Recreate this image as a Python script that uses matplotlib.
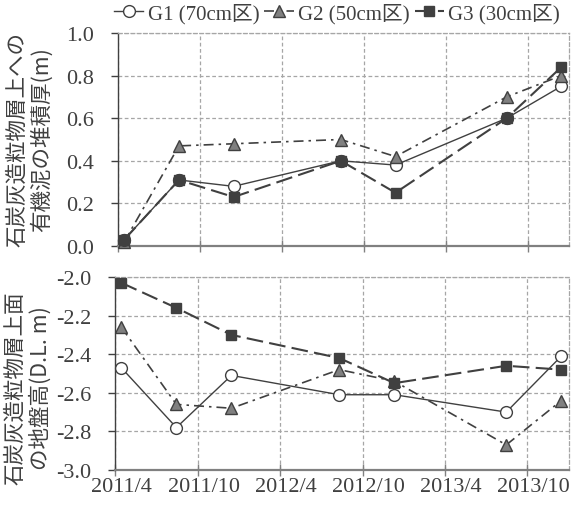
import numpy as np
import matplotlib
matplotlib.use("Agg")
import matplotlib.pyplot as plt
import matplotlib.dates as mdates
from matplotlib.ticker import FixedLocator, FuncFormatter
from matplotlib.transforms import ScaledTranslation
from datetime import date

# ── data ─────────────────────────────────────────────────────────────────────
DATES = [date(2011, 4, 15), date(2011, 8, 15), date(2011, 12, 15),
         date(2012, 8, 10), date(2012, 12, 10), date(2013, 8, 15),
         date(2013, 12, 15)]
SERIES = ["G1 (70cm区)", "G2 (50cm区)", "G3 (30cm区)"]

# organic mud thickness on coal ash granule layer (m)
THICK_G1 = [0.03, 0.31, 0.28, 0.40, 0.38, 0.60, 0.75]
THICK_G2 = [0.02, 0.47, 0.48, 0.50, 0.42, 0.70, 0.80]
THICK_G3 = [0.03, 0.31, 0.23, 0.40, 0.25, 0.60, 0.84]

# ground height of layer surface (D.L. m)
ELEV_G1 = [-2.47, -2.78, -2.51, -2.61, -2.61, -2.70, -2.41]
ELEV_G2 = [-2.26, -2.66, -2.68, -2.48, -2.54, -2.87, -2.64]
ELEV_G3 = [-2.03, -2.16, -2.30, -2.42, -2.55, -2.46, -2.48]

XTICKS = [date(2011, 4, 1), date(2011, 10, 1), date(2012, 4, 1),
          date(2012, 10, 1), date(2013, 4, 1), date(2013, 10, 1)]
XLIM = (date(2011, 4, 1), date(2014, 1, 1))

# ── style ────────────────────────────────────────────────────────────────────
FONT = ["Liberation Serif", "Noto Sans CJK JP"]
CJK = ["Noto Sans CJK JP", "Liberation Serif"]
plt.rcParams["font.family"] = FONT

DARK = "#404040"
MID = "#808080"
GRID = "#a6a6a6"
TXT = "#404040"
MS = 8.5
TICK_FS = 16
LEG_FS = 15

STYLES = [
    dict(color=DARK, lw=1.0, ls="-", marker="o", mfc="white", mec=DARK, ms=MS),
    dict(color=DARK, lw=1.2, ls=(0, (6, 3, 1.5, 3)), marker="^", mfc=MID, mec=DARK, ms=MS),
    dict(color=DARK, lw=1.5, ls=(0, (8, 3)), marker="s", mfc=DARK, mec=DARK, ms=MS * 0.85),
]


def style_axis(ax, ylim, yticks):
    ax.set_xlim(*XLIM)
    ax.set_ylim(*ylim)
    ax.xaxis.set_major_locator(FixedLocator(mdates.date2num(XTICKS)))
    ax.xaxis.set_major_formatter(
        FuncFormatter(lambda v, _: f"{mdates.num2date(v).year}/{mdates.num2date(v).month}"))
    ax.set_yticks(yticks)
    # short hyphen like the original, not a wide minus
    ax.yaxis.set_major_formatter(FuncFormatter(lambda v, _: f"{v:.1f}"))
    ax.grid(True, ls=(0, (3, 2)), color=GRID, lw=0.9)
    for side in ("top", "right"):
        ax.spines[side].set_linestyle((0, (3, 2)))
        ax.spines[side].set_color(GRID)
        ax.spines[side].set_linewidth(0.9)
    ax.spines["left"].set_color(DARK)
    ax.spines["left"].set_linewidth(1.0)
    ax.spines["bottom"].set_color(MID)
    ax.spines["bottom"].set_linewidth(1.6)
    ax.tick_params(axis="x", direction="inout", length=8, width=1.0, color=MID,
                   labelcolor=TXT, labelsize=TICK_FS, pad=1)
    ax.tick_params(axis="y", direction="out", length=5, width=1.0, color=DARK,
                   labelcolor=TXT, labelsize=TICK_FS, pad=12)
    ax.set_axisbelow(True)


def draw_panel(ax, g1, g2, g3):
    x = mdates.date2num(DATES)
    handles = []
    for vals, st, name in zip((g1, g2, g3), STYLES, SERIES):
        h, = ax.plot(x, vals, label=name, clip_on=False, zorder=3, **st)
        handles.append(h)
    # where G1 and G3 coincide the circle is shown filled dark
    same = np.isclose(g1, g3)
    ax.plot(x[same], np.asarray(g1)[same], ls="none", marker="o", ms=MS,
            mfc=DARK, mec=DARK, clip_on=False, zorder=4)
    return handles


fig = plt.figure(figsize=(5.71, 5.06), dpi=100)
W, H = 571, 506
ax1 = fig.add_axes([118 / W, 1 - 247 / H, (569 - 118) / W, (247 - 34) / H])
ax2 = fig.add_axes([115 / W, 1 - 471 / H, (569 - 115) / W, (471 - 278) / H])

handles = draw_panel(ax1, THICK_G1, THICK_G2, THICK_G3)
draw_panel(ax2, ELEV_G1, ELEV_G2, ELEV_G3)

style_axis(ax1, (0.0, 1.0), np.arange(0.0, 1.01, 0.2))
style_axis(ax2, (-3.0, -2.0), np.arange(-3.0, -1.99, 0.2))
ax1.tick_params(axis="x", labelbottom=False)

# x tick labels sit slightly right of their ticks in the original
fig.canvas.draw()
shift = ScaledTranslation(6 / 100, 0, fig.dpi_scale_trans)
for lab in ax2.get_xticklabels():
    lab.set_transform(lab.get_transform() + shift)

ax1.set_ylabel("石炭灰造粒物層上への\n有機泥の堆積厚(m)", family=CJK, fontsize=15.5,
               color=TXT, linespacing=1.15)
ax1.yaxis.set_label_coords(-0.144, 0.505)
ax2.set_ylabel("石炭灰造粒物層上面\nの地盤高(D.L. m)", family=CJK, fontsize=15.5,
               color=TXT, linespacing=1.15)
ax2.yaxis.set_label_coords(-0.14, 0.43)

leg = fig.legend(handles=handles, loc="center", bbox_to_anchor=(337 / W, 1 - 14 / H),
                 ncol=3, frameon=False, fontsize=LEG_FS, handlelength=1.4,
                 handletextpad=0.2, columnspacing=0.25, borderpad=0)
for t in leg.get_texts():
    t.set_color(TXT)

fig.savefig("out.png", dpi=100)
